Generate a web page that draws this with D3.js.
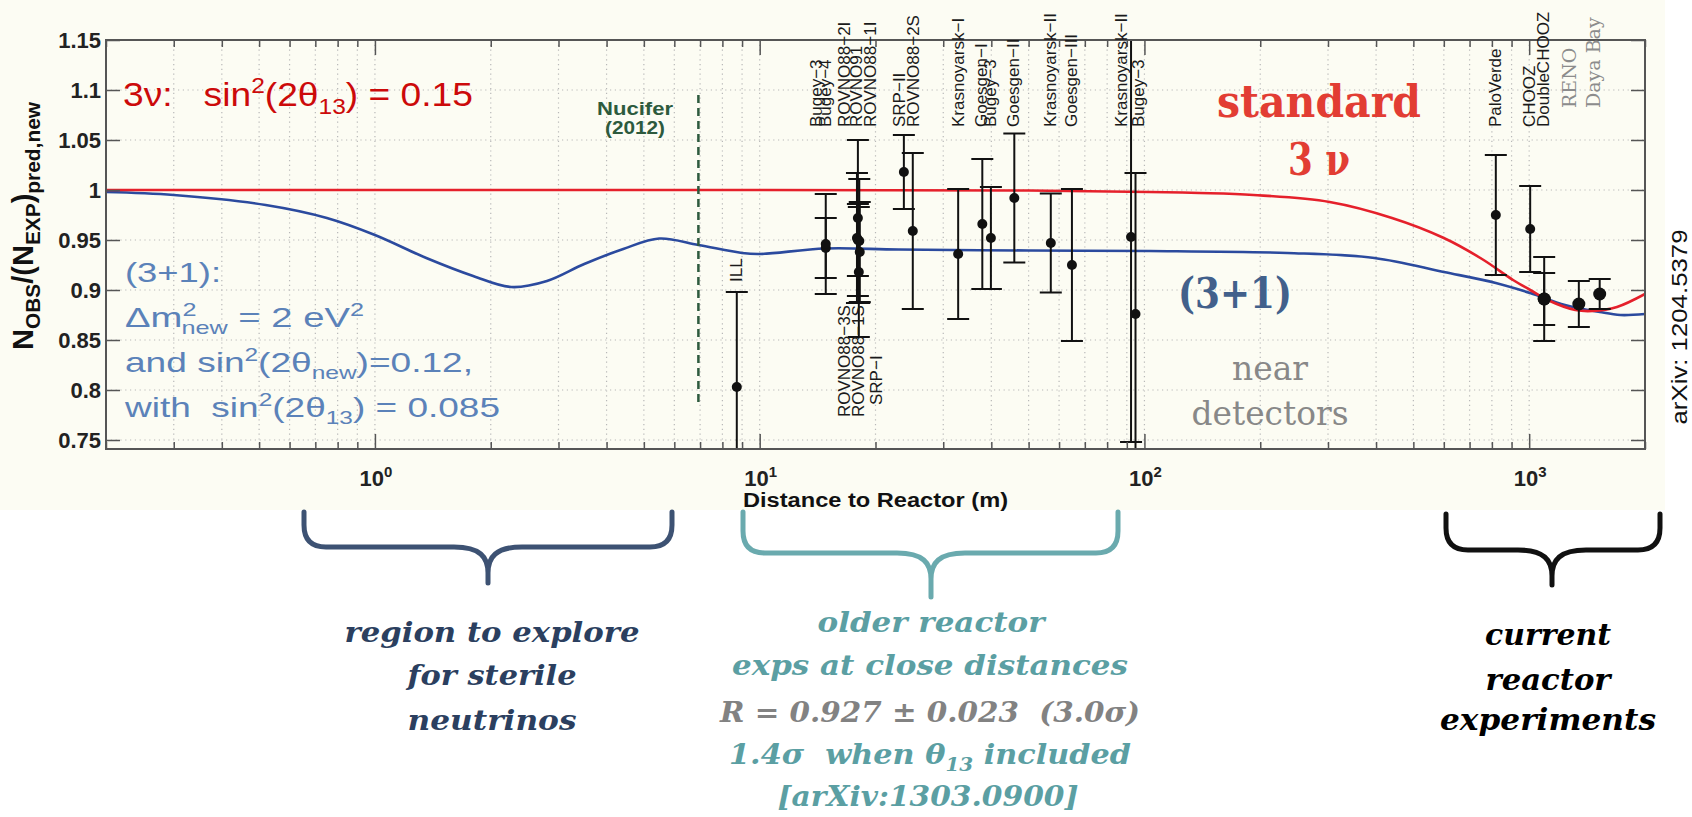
<!DOCTYPE html>
<html>
<head>
<meta charset="utf-8">
<title>Reactor neutrino ratio vs distance</title>
<script src="https://cdn.jsdelivr.net/npm/d3@7"></script>
<style>
  body { margin: 0; background: #fff; }
  svg text { white-space: pre; }
  .tick line { stroke: #555; stroke-width: 1.5px; }
  .domain { display: none; }
</style>
</head>
<body>
<svg id="chart" width="1692" height="817"></svg>
<script>
// ---- data ----
const majorTicks = [1, 10, 100, 1000];
const yTicks = [0.75, 0.8, 0.85, 0.9, 0.95, 1, 1.05, 1.1, 1.15];

const expNames = ["ILL", "Bugey-4", "Bugey-3 15m", "ROVNO88-1I", "ROVNO91", "ROVNO88-2I", "ROVNO88-1S", "ROVNO88-3S", "SRP-I",
  "SRP-II", "ROVNO88-2S", "Krasnoyarsk-I", "Goesgen-I", "Bugey-3 40m", "Goesgen-II", "Krasnoyarsk-III", "Goesgen-III",
  "Krasnoyarsk-II", "Bugey-3 95m", "PaloVerde", "CHOOZ", "DoubleCHOOZ", "DoubleCHOOZ ND", "RENO", "Daya Bay"];
const expDist  = [8.72, 14.85, 14.85, 18.0, 18.0, 17.9, 18.15, 18.2, 18.1, 23.7, 25.0, 32.8, 37.9, 39.9, 45.9, 57.1, 64.8,
  92.3, 94.8, 819, 1006, 1094, 1094, 1346, 1525];
const expRatio = [0.803, 0.942, 0.946, 0.972, 0.950, 0.952, 0.949, 0.938, 0.918, 1.018, 0.959, 0.936, 0.966, 0.952, 0.992,
  0.947, 0.925, 0.953, 0.876, 0.975, 0.961, 0.891, 0.891, 0.886, 0.896];
const expErr   = [0.095, 0.030, 0.050, 0.078, 0.036, 0.065, 0.062, 0.050, 0.065, 0.037, 0.078, 0.065, 0.065, 0.051, 0.0645,
  0.0495, 0.076, 0.205, 0.141, 0.060, 0.043, 0.042, 0.026, 0.023, 0.015];

const topLabelText = ["Bugey−3", "Bugey−4", "ROVNO88−2I", "ROVNO91", "ROVNO88−1I", "SRP−II", "ROVNO88−2S", "Krasnoyarsk−I",
  "Goesgen−I", "Bugey−3", "Goesgen−II", "Krasnoyarsk−II", "Goesgen−III", "Krasnoyarsk−II", "Bugey−3",
  "PaloVerde", "CHOOZ", "DoubleCHOOZ"];
const topLabelDist = [14.1, 14.9, 16.7, 17.9, 19.5, 23.2, 25.2, 32.9, 37.9, 40.0, 45.9, 57.0, 65.0, 87.6, 96.9, 819, 1006, 1094];
const grayLabelText = ["RENO", "Daya Bay"];
const grayLabelDist = [1279, 1476];
const bottomLabelText = ["ILL", "ROVNO88−3S", "ROVNO88−1S", "SRP−I"];
const bottomLabelDist = [8.72, 16.7, 18.1, 20.2];

// 3 nu curve, sin^2(2 theta13) = 0.15
const curve3nuDist  = [0.2, 10, 50, 103, 139, 192, 303, 440, 600, 754, 908, 1006, 1117, 1318, 1463, 1691, 2000];
const curve3nuRatio = [1.0, 1.0, 0.9995, 0.998, 0.997, 0.995, 0.988, 0.972, 0.952, 0.931, 0.910, 0.900, 0.890, 0.880, 0.879, 0.883, 0.896];
// 3+1 curve
const curve31Dist  = [0.2, 0.3, 0.52, 0.75, 1.0, 1.36, 1.8, 2.26, 2.8, 3.5, 4.42, 5.48, 6.93, 9.0, 10.0, 14.8, 23, 50, 103,
  235, 396, 600, 819, 1006, 1239, 1525, 1726, 2000];
const curve31Ratio = [0.998, 0.995, 0.985, 0.972, 0.955, 0.932, 0.914, 0.903, 0.909, 0.926, 0.941, 0.9515, 0.945, 0.937, 0.936,
  0.9415, 0.9405, 0.9395, 0.939, 0.937, 0.932, 0.918, 0.907, 0.897, 0.885, 0.878, 0.875, 0.876];

const nuciferDist = 6.93;
const nuciferSpan = [0.783, 1.095];

// ---- layout ----
const SANS = "'Liberation Sans', Arial, Helvetica, sans-serif";
const NARROW = "'Liberation Sans Narrow', 'Arial Narrow', 'Liberation Sans', sans-serif";
const SLAB = "'DejaVu Serif', 'Liberation Serif', serif";
const plot = { left: 106, right: 1645, top: 40, bottom: 449 };

const svg = d3.select("#chart");
const x = d3.scaleLog().domain([0.2, 2000]).range([plot.left, plot.right]);
const y = d3.scaleLinear().domain([0.741, 1.15]).range([plot.bottom, plot.top]);

svg.append("rect").attr("x", 0).attr("y", 0).attr("width", 1665).attr("height", 510).attr("fill", "#fcfcf3");

svg.append("clipPath").attr("id", "clip").append("rect")
  .attr("x", plot.left).attr("y", plot.top)
  .attr("width", plot.right - plot.left).attr("height", plot.bottom - plot.top);

// grid
const grid = svg.append("g").attr("stroke", "#b8b8b8").attr("stroke-width", 1.2).attr("stroke-dasharray", "1.2,3.6");
grid.selectAll(".gx").data(x.ticks()).join("line")
  .attr("x1", d => x(d)).attr("x2", d => x(d)).attr("y1", plot.top).attr("y2", plot.bottom);
grid.selectAll(".gy").data(yTicks).join("line")
  .attr("x1", plot.left).attr("x2", plot.right).attr("y1", d => y(d)).attr("y2", d => y(d));

// rich text helper: parts = [text, kind(0 normal, 1 sup, -1 sub), dx]
function rich(sel, parts, fs, ratio) {
  let shift = 0;
  parts.forEach(([t, k, dx]) => {
    const off = k === 1 ? -0.4 * fs : k === -1 ? 0.25 * fs : 0;
    const ts = sel.append("tspan").attr("dy", off - shift).text(t);
    ts.style("font-size", (k ? fs * ratio : fs) + "px");
    if (dx) ts.attr("dx", dx);
    shift = off;
  });
  return sel;
}
function note(px, py, parts, o) {
  const t = svg.append("text").attr("x", px).attr("y", py)
    .attr("text-anchor", o.anchor || "start")
    .attr("transform", o.rotate ? `rotate(-90,${px},${py})` : null)
    .style("font-size", o.size + "px")
    .style("font-family", o.font || SANS).style("font-weight", o.weight || "normal")
    .style("font-style", o.style || "normal").style("fill", o.color || "#000");
  rich(t, typeof parts === "string" ? [[parts, 0]] : parts, o.size, o.ratio || 0.66);
  if (o.len) t.attr("textLength", o.len).attr("lengthAdjust", "spacingAndGlyphs");
  return t;
}

// curves
const plotArea = svg.append("g").attr("clip-path", "url(#clip)");
const line = d3.line().x(d => x(d[0])).y(d => y(d[1])).curve(d3.curveCatmullRom.alpha(0.5));
plotArea.append("path").datum(d3.zip(curve31Dist, curve31Ratio)).attr("d", line)
  .attr("fill", "none").attr("stroke", "#2b4a9e").attr("stroke-width", 2.6);
plotArea.append("path").datum(d3.zip(curve3nuDist, curve3nuRatio)).attr("d", line)
  .attr("fill", "none").attr("stroke", "#e5202b").attr("stroke-width", 2.6);

// Nucifer
plotArea.append("line").attr("x1", x(nuciferDist)).attr("x2", x(nuciferDist))
  .attr("y1", y(nuciferSpan[1])).attr("y2", y(nuciferSpan[0]))
  .attr("stroke", "#2d5a3d").attr("stroke-width", 2.5).attr("stroke-dasharray", "8,5");
note(635, 115, "Nucifer", { size: 18, weight: "bold", color: "#2d5a3d", anchor: "middle", len: 76 });
note(635, 134, "(2012)", { size: 18, weight: "bold", color: "#2d5a3d", anchor: "middle", len: 60 });

// error bars
const exps = expNames.map((n, i) => ({ n, d: expDist[i], r: expRatio[i], e: expErr[i] }));
const bars = plotArea.append("g").attr("stroke", "#111").attr("stroke-width", 2);
exps.forEach(p => {
  const cx = x(p.d), y1 = y(p.r + p.e), y2 = y(p.r - p.e);
  bars.append("line").attr("x1", cx).attr("x2", cx).attr("y1", y1).attr("y2", y2);
  bars.append("line").attr("x1", cx - 11).attr("x2", cx + 11).attr("y1", y1).attr("y2", y1);
  bars.append("line").attr("x1", cx - 11).attr("x2", cx + 11).attr("y1", y2).attr("y2", y2);
});
plotArea.append("g").selectAll("circle").data(exps).join("circle")
  .attr("cx", d => x(d.d)).attr("cy", d => y(d.r)).attr("r", d => d.d > 1050 ? 6.5 : 5).attr("fill", "#111");

// frame and axes
svg.append("rect").attr("x", plot.left).attr("y", plot.top)
  .attr("width", plot.right - plot.left).attr("height", plot.bottom - plot.top)
  .attr("fill", "none").attr("stroke", "#555").attr("stroke-width", 2);
const minorTicks = x.ticks().filter(v => !majorTicks.includes(v));
const gB = svg.append("g").attr("transform", `translate(0,${plot.bottom})`);
gB.append("g").call(d3.axisBottom(x).tickValues(majorTicks).tickSize(-15).tickFormat(""));
gB.append("g").call(d3.axisBottom(x).tickValues(minorTicks).tickSize(-7).tickFormat(""));
const gT = svg.append("g").attr("transform", `translate(0,${plot.top})`);
gT.append("g").call(d3.axisTop(x).tickValues(majorTicks).tickSize(-15).tickFormat(""));
gT.append("g").call(d3.axisTop(x).tickValues(minorTicks).tickSize(-7).tickFormat(""));
const gL = svg.append("g").attr("transform", `translate(${plot.left},0)`)
  .call(d3.axisLeft(y).tickValues(yTicks).tickSize(-14).tickPadding(5).tickFormat(d3.format("")));
gL.selectAll("text").style("font-family", SANS).style("font-weight", "bold").style("font-size", "22px").style("fill", "#222");
svg.append("g").attr("transform", `translate(${plot.right},0)`)
  .call(d3.axisRight(y).tickValues(yTicks).tickSize(-14).tickFormat(""));

majorTicks.forEach((v, i) =>
  note(x(v) + 1, 486, [["10", 0], [String(i), 1]], { size: 22, weight: "bold", color: "#222", anchor: "middle", ratio: 0.68 }));
note((plot.left + plot.right) / 2, 507, "Distance to Reactor (m)", { size: 20, weight: "bold", color: "#111", anchor: "middle", len: 265 });
note(33, 226, [["N", 0], ["OBS", -1], ["/(N", 0], ["EXP", -1], [")", 0], ["pred,new", -1]],
  { size: 29, weight: "bold", color: "#111", anchor: "middle", rotate: true, ratio: 0.72 });

// experiment labels
topLabelText.forEach((t, i) => note(x(topLabelDist[i]) + 5, 127, t, { size: 17, color: "#1a1a1a", rotate: true }));
grayLabelText.forEach((t, i) => note(x(grayLabelDist[i]) + 6, 108, t, { size: 19, color: "#8c8c8c", font: SLAB, rotate: true }));
const bottomLabelBase = [282, 417, 417, 405];
bottomLabelText.forEach((t, i) => note(x(bottomLabelDist[i]) + 5, bottomLabelBase[i], t, { size: 17, color: "#1a1a1a", rotate: true }));

// in-plot annotations
note(123, 106, [["3ν:   sin", 0], ["2", 1], ["(2θ", 0], ["13", -1], [") = 0.15", 0]],
  { size: 33, font: NARROW, color: "#cc0a0a", len: 350 });
const blue = { size: 28, font: NARROW, color: "#5b82b9" };
note(125, 282, "(3+1):", { ...blue, len: 96 });
note(125, 327, [["Δm", 0], ["2", 1], ["new", -1, -11], [" = 2 eV", 0], ["2", 1]], { ...blue, len: 239 });
note(125, 372, [["and sin", 0], ["2", 1], ["(2θ", 0], ["new", -1], [")=0.12,", 0]], { ...blue, len: 348 });
note(125, 417, [["with  sin", 0], ["2", 1], ["(2θ", 0], ["13", -1], [") = 0.085", 0]], { ...blue, len: 375 });

note(1319, 117, "standard", { size: 44, font: SLAB, weight: "bold", color: "#e23d33", anchor: "middle", len: 204 });
note(1319, 175, "3 ν", { size: 44, font: SLAB, weight: "bold", color: "#e23d33", anchor: "middle", len: 62 });
note(1235, 308, "(3+1)", { size: 42, font: SLAB, weight: "bold", color: "#42608b", anchor: "middle", len: 114 });
note(1270, 380, "near", { size: 34, font: SLAB, color: "#888", anchor: "middle", len: 76 });
note(1270, 425, "detectors", { size: 34, font: SLAB, color: "#888", anchor: "middle", len: 157 });
note(1687, 327, "arXiv: 1204.5379", { size: 22, color: "#111", anchor: "middle", rotate: true, len: 195 });

// braces
function brace(x1, x2, top, yH, tip, xc, color) {
  const r = 22, s = 34;
  const p = d3.path();
  p.moveTo(x1, top);
  p.lineTo(x1, yH - r);
  p.quadraticCurveTo(x1, yH, x1 + r, yH);
  p.lineTo(xc - s, yH);
  p.bezierCurveTo(xc - 8, yH, xc, yH + 10, xc, yH + 26);
  p.lineTo(xc, tip);
  p.moveTo(x2, top);
  p.lineTo(x2, yH - r);
  p.quadraticCurveTo(x2, yH, x2 - r, yH);
  p.lineTo(xc + s, yH);
  p.bezierCurveTo(xc + 8, yH, xc, yH + 10, xc, yH + 26);
  svg.append("path").attr("d", p.toString()).attr("fill", "none").attr("stroke", color)
    .attr("stroke-width", 5).attr("stroke-linecap", "round").attr("stroke-linejoin", "round");
}
brace(304, 672, 512, 547, 583, 488, "#3d5273");
brace(743, 1118, 512, 553, 597, 931, "#6aaaae");
brace(1446, 1660, 514, 550, 585, 1552, "#111");

const ita = { size: 28, font: SLAB, weight: "bold", style: "italic", anchor: "middle" };
note(492, 642, "region to explore", { ...ita, color: "#2b3f5f", len: 295 });
note(492, 685, "for sterile", { ...ita, color: "#2b3f5f", len: 169 });
note(492, 730, "neutrinos", { ...ita, color: "#2b3f5f", len: 169 });
const teal = "#5b9fa3";
note(931, 632, "older reactor", { ...ita, color: teal, len: 227 });
note(930, 675, "exps at close distances", { ...ita, color: teal, len: 396 });
note(930, 722, "R = 0.927 ± 0.023  (3.0σ)", { ...ita, color: "#828282", len: 420 });
note(930, 764, [["1.4σ  when θ", 0], ["13", -1], [" included", 0]], { ...ita, color: teal, len: 402 });
note(928, 806, "[arXiv:1303.0900]", { ...ita, color: teal, len: 301 });
note(1548, 645, "current", { ...ita, size: 30, color: "#000", len: 126 });
note(1548, 690, "reactor", { ...ita, size: 30, color: "#000", len: 125 });
note(1548, 730, "experiments", { ...ita, size: 30, color: "#000", len: 216 });
</script>
</body>
</html>
